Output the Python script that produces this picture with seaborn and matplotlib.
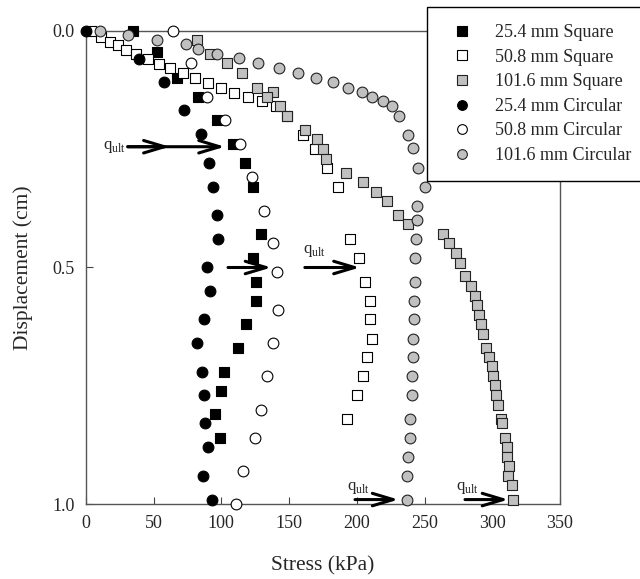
import numpy as np
import pandas as pd
import matplotlib
matplotlib.use('Agg')
import matplotlib.pyplot as plt
import seaborn as sns

# ------------------------------------------------------------------
# data (stress in kPa, displacement in cm)
sq25_x = [35, 52.7, 67.4, 82.5, 97.2, 108.8, 117.4, 123.1, 129.7, 123.1, 125.3, 125.6,
          117.9, 112.5, 102.1, 99.7, 95.3, 99.2]
sq25_y = [0, 0.046, 0.10, 0.139, 0.189, 0.24, 0.28, 0.33, 0.429, 0.479, 0.53, 0.57,
          0.62, 0.67, 0.72, 0.76, 0.81, 0.86]

sq50_x = [4.2, 11.6, 17.7, 23.9, 29.5, 36.9, 46, 54.2, 62, 71.9, 80.5, 90.3, 99.7, 109.5,
          119.9, 130.3, 140.3, 148.7, 160, 169.1, 177.8, 186.4, 195.2, 201.6, 206.1, 209.7,
          209.7, 211, 207.3, 204.3, 199.9, 192.5]
sq50_y = [0, 0.013, 0.023, 0.03, 0.041, 0.049, 0.06, 0.07, 0.079, 0.089, 0.10, 0.11, 0.12,
          0.131, 0.139, 0.149, 0.159, 0.18, 0.22, 0.25, 0.29, 0.331, 0.44, 0.479, 0.53, 0.57,
          0.609, 0.65, 0.69, 0.729, 0.769, 0.82]

sq101_x = [82.2, 91.6, 103.9, 115, 126.3, 137.9, 133.5, 143.3, 148.7, 161.7, 170.8, 175.3,
           177.3, 191.8, 204.8, 214.2, 222.5, 230.2, 237.6, 263.9, 268.3, 273, 276.2, 280.2,
           284.4, 287.3, 289, 290, 291.5, 293.5, 295.4, 297.9, 299.6, 300.8, 302.1, 302.8,
           304.5, 306.3, 307, 309.5, 310.7, 311.2, 312.7, 311.9, 314.6, 315.6]
sq101_y = [0.02, 0.049, 0.069, 0.089, 0.12, 0.13, 0.139, 0.159, 0.18, 0.21, 0.229, 0.25,
           0.27, 0.30, 0.32, 0.34, 0.36, 0.389, 0.409, 0.429, 0.449, 0.469, 0.49, 0.519,
           0.539, 0.56, 0.579, 0.60, 0.619, 0.64, 0.671, 0.69, 0.709, 0.729, 0.749, 0.769,
           0.79, 0.82, 0.829, 0.86, 0.88, 0.90, 0.919, 0.94, 0.959, 0.99]

ci25_x = [0, 39.4, 57.6, 72.6, 85.4, 91.1, 93.6, 96.8, 97.5, 89.6, 91.6, 87.4, 81.8, 85.5,
          87.2, 87.9, 90.3, 86.6, 93.3]
ci25_y = [0, 0.06, 0.108, 0.167, 0.218, 0.279, 0.329, 0.389, 0.44, 0.5, 0.55, 0.609, 0.66,
          0.72, 0.769, 0.829, 0.88, 0.94, 0.99]

ci50_x = [64.5, 77.5, 89.6, 102.7, 113.7, 122.4, 131.5, 137.9, 140.8, 142, 137.9, 133.9,
          129.7, 125, 116.2, 110.8]
ci50_y = [0, 0.068, 0.139, 0.189, 0.24, 0.308, 0.38, 0.449, 0.51, 0.59, 0.66, 0.729, 0.80,
          0.86, 0.929, 1.0]

ci101_x = [10.8, 31.3, 52.9, 74.3, 83, 96.5, 113.2, 126.8, 142.8, 156.3, 169.6, 182.2,
           193.7, 203.6, 211, 219.1, 226.2, 231.4, 238, 241.2, 245.4, 250, 244.7, 244.2,
           243.7, 243.2, 242.8, 242.2, 242.2, 241.7, 241.2, 240.8, 240.5, 239.3, 239.3,
           238, 237.3, 236.9]
ci101_y = [0, 0.009, 0.02, 0.029, 0.039, 0.049, 0.058, 0.069, 0.079, 0.089, 0.099, 0.109,
           0.12, 0.13, 0.139, 0.148, 0.159, 0.18, 0.22, 0.248, 0.29, 0.329, 0.37, 0.40,
           0.44, 0.479, 0.53, 0.57, 0.609, 0.65, 0.69, 0.729, 0.769, 0.82, 0.86, 0.90,
           0.94, 0.99]

labels = ['25.4 mm Square', '50.8 mm Square', '101.6 mm Square',
          '25.4 mm Circular', '50.8 mm Circular', '101.6 mm Circular']

# q_ult arrows: (x_start, x_end, y)
arrows = [(31, 62, 0.245), (31, 102.7, 0.245), (105, 137, 0.5), (161.7, 202.3, 0.5),
          (198.7, 230.8, 0.99), (279.9, 311.9, 0.99)]
qult_text = [(12.5, 0.245), (160, 0.465), (193, 0.965), (273, 0.965)]

# ------------------------------------------------------------------
sns.set_style('ticks')
plt.rcParams['font.family'] = ['Liberation Serif', 'DejaVu Serif']
plt.rcParams['mathtext.fontset'] = 'custom'
plt.rcParams['mathtext.rm'] = 'Liberation Serif'

fig = plt.figure(figsize=(6.4, 5.79), dpi=100)
ax = fig.add_axes([0.134, 0.129, 0.741, 0.818])

series = [
    (sq25_x, sq25_y, 's', 'black', 'black'),
    (sq50_x, sq50_y, 's', 'white', 'black'),
    (sq101_x, sq101_y, 's', '#c0c0c0', '#222222'),
    (ci25_x, ci25_y, 'o', 'black', 'black'),
    (ci50_x, ci50_y, 'o', 'white', 'black'),
    (ci101_x, ci101_y, 'o', '#c0c0c0', '#222222'),
]

handles = []
for (xs, ys, mk, fc, ec), lab in zip(series, labels):
    df = pd.DataFrame({'Stress': xs, 'Displacement': ys})
    sns.scatterplot(data=df, x='Stress', y='Displacement', marker=mk, color=fc,
                    edgecolor=ec, linewidth=0.8, s=60 if mk == 'o' else 52,
                    ax=ax, clip_on=False, zorder=3)
    h, = ax.plot([], [], ls='none', marker=mk, markerfacecolor=fc,
                 markeredgecolor=ec, markeredgewidth=0.8, markersize=7, label=lab)
    handles.append(h)

for x0, x1, yy in arrows:
    ax.annotate('', xy=(x1, yy), xytext=(x0, yy),
                arrowprops=dict(arrowstyle='->, head_length=1.5, head_width=0.45',
                                lw=2.2, color='black', shrinkA=0, shrinkB=0),
                annotation_clip=False, zorder=4)
for tx, ty in qult_text:
    ax.text(tx, ty, r'q$_\mathregular{ult}$', fontsize=12, va='center', ha='left',
            zorder=4)

ax.set_xlim(0, 350)
ax.set_ylim(1.0, 0.0)
ax.set_xticks(np.arange(0, 351, 50))
ax.set_yticks([0.0, 0.5, 1.0])
ax.set_yticklabels(['0.0', '0.5', '1.0'])
ax.tick_params(direction='in', length=5, width=0.8, labelsize=13, pad=8,
               color='#444444')
for sp in ax.spines.values():
    sp.set_color('#555555')
    sp.set_linewidth(1.0)
ax.set_xlabel('Stress (kPa)', fontsize=15.5, labelpad=17)
ax.set_ylabel('Displacement (cm)', fontsize=15.5, labelpad=14)

leg = ax.legend(handles=handles, loc='upper left', bbox_to_anchor=(427 / 640, 1 - 7 / 579),
                bbox_transform=fig.transFigure, frameon=True, fancybox=False,
                edgecolor='black', framealpha=1, fontsize=13, borderaxespad=0,
                handlelength=2.0, handletextpad=0.8, borderpad=0.95, labelspacing=0.42)
leg.get_frame().set_linewidth(1.0)
leg.set_zorder(10)

fig.savefig('out.png', dpi=100)
